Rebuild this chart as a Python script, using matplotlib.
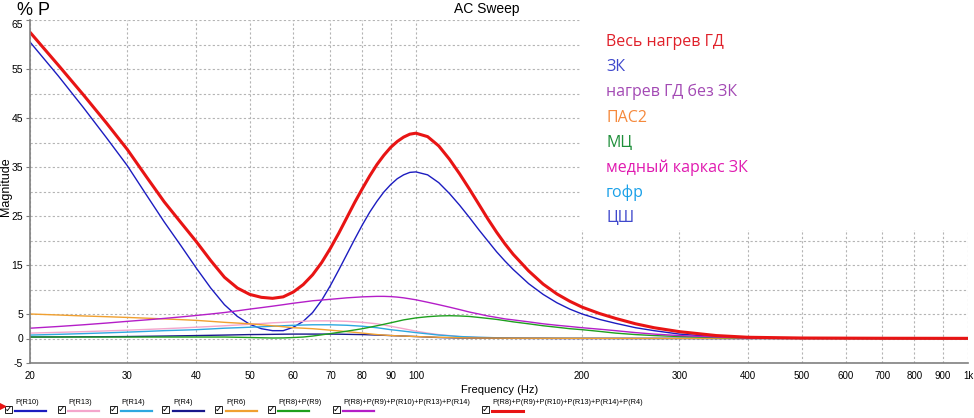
import matplotlib
matplotlib.use("Agg")
import matplotlib.pyplot as plt
from matplotlib.lines import Line2D
from matplotlib.patches import Rectangle

# frequency points (Hz)
freq = [20, 22.5, 25, 27.5, 30, 32.5, 35, 37.5, 40, 42.5, 45, 47.5, 50, 52.5, 55, 57.5,
        60, 62.5, 65, 67.5, 70, 72.5, 75, 77.5, 80, 82.5, 85, 87.5, 90, 92.5, 95, 97.5,
        100, 105, 110, 115, 120, 125, 130, 135, 140, 145, 150,
        160, 170, 180, 190, 200, 215, 230, 250, 270, 300, 350, 400, 500, 700, 1000]

# series values (% P)
p_total = [62.5, 55.8, 49.7, 44.0, 38.6, 33.0, 27.9, 23.7, 19.8, 15.9, 12.5, 10.3, 9.0, 8.4, 8.2, 8.5,
           9.5, 11.0, 13.0, 15.5, 18.4, 21.5, 24.7, 27.8, 30.6, 33.2, 35.5, 37.4, 39.0, 40.2, 41.1, 41.7,
           41.9, 41.2, 39.3, 36.6, 33.6, 30.5, 27.4, 24.4, 21.7, 19.3, 17.2,
           13.8, 11.1, 9.1, 7.6, 6.4, 5.1, 4.1, 3.0, 2.2, 1.4, 0.6, 0.25, 0.1, 0.05, 0.03]
p_r10 = [60.5, 53.6, 47.1, 41.0, 35.3, 29.3, 23.8, 19.0, 14.4, 10.3, 6.9, 4.5, 2.9, 2.0, 1.6, 1.6,
         2.3, 3.5, 5.3, 7.8, 10.8, 14.0, 17.2, 20.3, 23.2, 25.8, 28.0, 29.9, 31.4, 32.6, 33.4, 33.9,
         34.0, 33.4, 31.8, 29.6, 27.2, 24.7, 22.2, 19.9, 17.7, 15.8, 14.1,
         11.2, 9.0, 7.3, 6.0, 5.0, 3.9, 3.1, 2.2, 1.6, 0.9, 0.35, 0.12, 0.05, 0.03, 0.02]
p_sum5 = [2.1, 2.45, 2.8, 3.15, 3.5, 3.8, 4.1, 4.4, 4.7, 5.0, 5.3, 5.65, 6.0, 6.3, 6.6, 6.9,
          7.2, 7.45, 7.7, 7.85, 8.0, 8.15, 8.3, 8.4, 8.5, 8.55, 8.6, 8.6, 8.55, 8.45, 8.3, 8.1,
          7.9, 7.4, 6.9, 6.4, 5.9, 5.4, 5.0, 4.6, 4.3, 4.0, 3.8,
          3.4, 3.0, 2.7, 2.45, 2.2, 1.9, 1.6, 1.2, 0.9, 0.6, 0.3, 0.1, 0.05, 0.03, 0.02]
p_r6 = [5.0, 4.8, 4.6, 4.45, 4.3, 4.15, 4.0, 3.85, 3.7, 3.5, 3.3, 3.15, 3.0, 2.8, 2.6, 2.4,
        2.2, 2.1, 2.0, 1.85, 1.7, 1.55, 1.4, 1.25, 1.1, 0.95, 0.8, 0.7, 0.6, 0.55, 0.5, 0.45,
        0.4, 0.32, 0.25, 0.2, 0.15, 0.12, 0.1, 0.09, 0.08, 0.07, 0.06,
        0.06, 0.05, 0.05, 0.04, 0.04, 0.03, 0.03, 0.02, 0.02, 0.02, 0.02, 0.01, 0.01, 0.0, 0.0]
p_r13 = [1.1, 1.25, 1.4, 1.55, 1.7, 1.85, 2.0, 2.15, 2.3, 2.45, 2.6, 2.75, 2.9, 3.05, 3.2, 3.3,
         3.4, 3.5, 3.6, 3.6, 3.6, 3.55, 3.5, 3.4, 3.3, 3.15, 3.0, 2.75, 2.5, 2.25, 2.0, 1.75,
         1.5, 1.1, 0.8, 0.6, 0.4, 0.3, 0.2, 0.17, 0.15, 0.12, 0.1,
         0.08, 0.07, 0.06, 0.05, 0.05, 0.04, 0.03, 0.02, 0.02, 0.02, 0.01, 0.01, 0.0, 0.0, 0.0]
p_r14 = [0.7, 0.85, 1.0, 1.15, 1.3, 1.45, 1.6, 1.7, 1.8, 1.95, 2.1, 2.2, 2.3, 2.4, 2.5, 2.6,
         2.7, 2.75, 2.8, 2.8, 2.8, 2.75, 2.7, 2.6, 2.5, 2.35, 2.2, 2.0, 1.8, 1.65, 1.5, 1.35,
         1.2, 0.95, 0.7, 0.55, 0.4, 0.32, 0.25, 0.2, 0.15, 0.12, 0.1,
         0.08, 0.07, 0.06, 0.05, 0.05, 0.04, 0.03, 0.02, 0.02, 0.02, 0.01, 0.01, 0.0, 0.0, 0.0]
p_r8r9 = [0.3, 0.3, 0.3, 0.3, 0.3, 0.3, 0.3, 0.3, 0.3, 0.3, 0.3, 0.25, 0.2, 0.15, 0.1, 0.12,
          0.2, 0.3, 0.5, 0.75, 1.0, 1.25, 1.5, 1.75, 2.0, 2.3, 2.6, 2.9, 3.2, 3.5, 3.8, 4.0,
          4.2, 4.45, 4.6, 4.65, 4.6, 4.5, 4.3, 4.1, 3.9, 3.65, 3.4,
          3.0, 2.6, 2.3, 2.0, 1.8, 1.45, 1.1, 0.8, 0.6, 0.4, 0.2, 0.1, 0.05, 0.02, 0.0]
p_r4 = [0.3, 0.32, 0.35, 0.37, 0.4, 0.45, 0.5, 0.55, 0.6, 0.65, 0.7, 0.75, 0.8, 0.82, 0.85, 0.88,
        0.9, 0.9, 0.9, 0.9, 0.9, 0.88, 0.85, 0.82, 0.8, 0.75, 0.7, 0.65, 0.6, 0.55, 0.5, 0.45,
        0.4, 0.3, 0.2, 0.15, 0.1, 0.09, 0.08, 0.07, 0.05, 0.04, 0.03,
        0.02, 0.02, 0, 0, 0, 0, 0, 0, 0, 0, 0, 0, 0, 0, 0]

series_labels = ["P(R10)", "P(R13)", "P(R14)", "P(R4)", "P(R6)", "P(R8)+P(R9)",
                 "P(R8)+P(R9)+P(R10)+P(R13)+P(R14)",
                 "P(R8)+P(R9)+P(R10)+P(R13)+P(R14)+P(R4)"]
series_data = [p_r10, p_r13, p_r14, p_r4, p_r6, p_r8r9, p_sum5, p_total]
series_colors = ["#1c1cc0", "#f4a6cc", "#2ea8e0", "#18188c", "#f0a030", "#1ea01e", "#b41ec8", "#e81414"]
series_widths = [1.0, 1.0, 1.0, 1.0, 1.0, 1.0, 1.0, 2.2]

xticks = [20, 30, 40, 50, 60, 70, 80, 90, 100, 200, 300, 400, 500, 600, 700, 800, 900, 1000]
xtick_labels = ["20", "30", "40", "50", "60", "70", "80", "90", "100", "200", "300", "400",
                "500", "600", "700", "800", "900", "1k"]
yticks = [-5, 0, 5, 15, 25, 35, 45, 55, 65]
ygrid_minor = [10, 20, 30, 40, 50, 60]

notes = ["Весь нагрев ГД", "ЗК", "нагрев ГД без ЗК", "ПАС2", "МЦ", "медный каркас ЗК", "гофр", "ЦШ"]
note_colors = ["#e0202a", "#3f48cc", "#a349b4", "#f5893c", "#1e8f3a", "#e01bb0", "#1aa0e8", "#3f48cc"]

W, H = 974, 418
fig = plt.figure(figsize=(9.74, 4.18), dpi=100)
ax = fig.add_axes([30 / W, 1 - 363 / H, 938 / W, 343 / H])

for d, c, lw in zip(series_data, series_colors, series_widths):
    ax.plot(freq, d, color=c, lw=lw)

ax.set_xscale("log")
ax.set_xlim(20, 1000)
ax.set_ylim(-5, 65)
ax.set_xticks(xticks)
ax.set_xticklabels(xtick_labels, fontsize=7, family="Liberation Sans")
ax.xaxis.set_minor_locator(matplotlib.ticker.NullLocator())
ax.set_yticks(yticks)
ax.set_yticklabels([str(v) for v in yticks], fontsize=7.5, family="Liberation Sans")
ax.set_yticks(ygrid_minor, minor=True)
ax.tick_params(axis="x", length=0, pad=6)
ax.tick_params(axis="y", which="major", length=3, color="#808080", pad=2)
ax.tick_params(axis="y", which="minor", length=0)
ax.get_yticklabels()[-1].set_verticalalignment("top")
ax.grid(True, axis="x", color="#b4b4b4", ls=(0, (2, 2)), lw=0.8)
ax.grid(True, axis="y", which="both", color="#b4b4b4", ls=(0, (2, 2)), lw=0.8)
ax.set_axisbelow(True)
for s in ["top", "right"]:
    ax.spines[s].set_visible(False)
for s in ["left", "bottom"]:
    ax.spines[s].set_color("#808080")
    ax.spines[s].set_linewidth(1.2)

# white block behind the annotation text (hides the grid there)
ax.add_patch(Rectangle((580 / W, 1 - 230 / H), 1 - 580 / W, 230 / H, transform=fig.transFigure,
                       facecolor="white", edgecolor="none", zorder=1.5))
for i, (t, c) in enumerate(zip(notes, note_colors)):
    fig.text(606 / W, 1 - (46 + 25.2 * i) / H, t, color=c, fontsize=11.5, family="Open Sans",
             va="baseline", ha="left", zorder=3)

fig.text(17 / W, 1 - 10.5 / H, "% P", fontsize=13, family="Liberation Sans", va="center", ha="left")
fig.text(487 / W, 1 - 9 / H, "AC Sweep", fontsize=10, family="Liberation Sans", va="center", ha="center")
fig.text(500 / W, 1 - 390 / H, "Frequency (Hz)", fontsize=8, family="Liberation Sans", va="center", ha="center")
fig.text(6 / W, 1 - 187 / H, "Magnitude", fontsize=9, family="Liberation Sans", rotation=90,
         va="center", ha="center")

# checkbox legend along the bottom
cb_x = [5, 58, 110, 162, 215, 268, 333, 482]
lab_x = [15, 68, 121, 173, 226, 278, 343, 492]
fig.add_artist(Line2D([1.5 / W], [1 - 406 / H], marker=">", color="#e81414", markersize=4,
                      transform=fig.transFigure))
for i, (lab, c) in enumerate(zip(series_labels, series_colors)):
    fig.add_artist(Rectangle((cb_x[i] / W, 1 - 413 / H), 7 / W, 7 / H, transform=fig.transFigure,
                             facecolor="white", edgecolor="#202020", lw=0.7))
    fig.text((cb_x[i] + 3.8) / W, 1 - 409.5 / H, "✓", fontsize=6.5, family="DejaVu Sans",
             ha="center", va="center", fontweight="bold")
    fig.text(lab_x[i] / W, 1 - 403 / H, lab, fontsize=5.3, family="Liberation Sans",
             ha="left", va="center")
    fig.add_artist(Line2D([lab_x[i] / W, (lab_x[i] + 31) / W], [1 - 411 / H] * 2, color=c,
                          lw=1.6 if i < 7 else 2.2, transform=fig.transFigure))

fig.savefig("out.png", dpi=100)
